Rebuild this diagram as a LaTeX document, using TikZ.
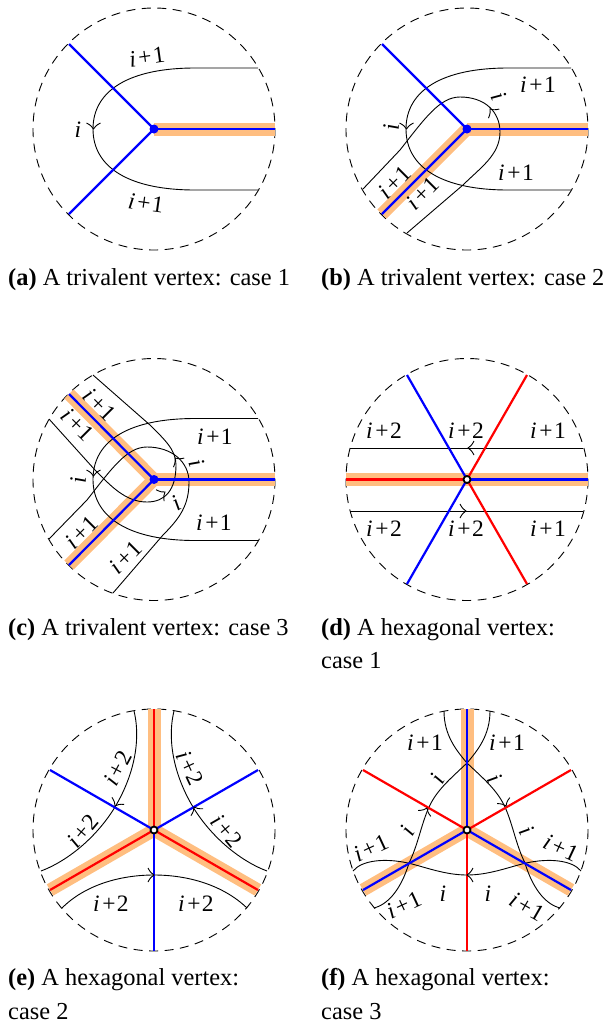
\documentclass[tikz,border=0pt]{standalone}
\usepackage{fontspec}
\setmainfont{Liberation Serif}
\definecolor{hl}{RGB}{255,190,128}
\newcounter{lb}
\newcommand\lab[4]{\stepcounter{lb}\node[lbl,rotate=#3] (lab\arabic{lb}) at (#1,#2) {#4};}
\newcommand\pp[1]{\textit{i}\hspace{2.5pt}+\hspace{1.5pt}#1}
\newcommand\iitxt{\textit{i}}
\newcommand\tipat[3]{\draw[wire,shift={(#1,#2)},rotate=#3] (-6,-7) .. controls (-4,-3) and (-2,-1) .. (0,0) .. controls (-2,1) and (-4,3) .. (-6,7);}
\tikzset{
  lbl/.style={inner sep=0pt,font=\fontsize{23.5}{26}\selectfont},
  wire/.style={black,line width=.9pt},
  bound/.style={black,line width=.9pt,dash pattern=on 9pt off 6.5pt},
  hlbar/.style={hl,line width=13pt},
  bl/.style={blue,line width=2.2pt},
  rd/.style={red,line width=2.2pt},
  capt/.style={anchor=base west,inner sep=0pt,font=\fontsize{24.4}{28}\selectfont},
  dotb/.style={circle,fill=blue,inner sep=0pt,minimum size=9pt},
  dotw/.style={circle,fill=white,draw=black,line width=1.8pt,inner sep=0pt,minimum size=7pt},
}
\begin{document}
\begin{tikzpicture}[x=1pt,y=-1pt]
\useasboundingbox (0,0) rectangle (607,1026);
% ---------- (a)
\coordinate (ac) at (154,129);
\draw[bound] (ac) circle[radius=121];
\draw[hlbar] (ac) -- (275,129);
\draw[wire] (258,68) -- (195,68) .. controls (130,68) and (93,90) .. (93,129) .. controls (93,168) and (130,190) .. (195,190) -- (258,190);
\draw[bl] (ac) -- (69,44);
\draw[bl] (ac) -- (69,214);
\draw[bl] (ac) -- (275,129);
\node[dotb] (av) at (ac) {};
\tipat{93.5}{129}{-90}
\lab{147}{57}{8}{\pp{1}}
\lab{146}{203}{-8}{\pp{1}}
\lab{78}{130}{0}{\iitxt}
\node[capt] (capa) at (8,285) {\textbf{(a)} A trivalent vertex: case 1};
% ---------- (b)
\coordinate (bc) at (467,129);
\draw[bound] (bc) circle[radius=121];
\draw[hlbar] (bc) -- (588,129);
\draw[hlbar] (bc) -- (382,214);
\draw[wire] (571,68) -- (508,68) .. controls (443,68) and (406,90) .. (406,129) .. controls (406,168) and (443,190) .. (508,190) -- (571,190);
\draw[wire] (363,189) -- (400,150) .. controls (425,118) and (440,97) .. (460,97) .. controls (485,97) and (500,112) .. (500,132) .. controls (500,155) and (480,168) .. (463,185) -- (407,233);
\draw[bl] (bc) -- (382,44);
\draw[bl] (bc) -- (382,214);
\draw[bl] (bc) -- (588,129);
\node[dotb] (bv) at (bc) {};
\tipat{406.5}{129}{-90}
\tipat{490}{109}{130}
\lab{538}{85}{0}{\pp{1}}
\lab{516}{173}{0}{\pp{1}}
\lab{391}{127}{90}{\iitxt}
\lab{499}{96}{-65}{\iitxt}
\lab{395}{182}{45}{\pp{1}}
\lab{423}{193}{45}{\pp{1}}
\node[capt] (capb) at (321,285) {\textbf{(b)} A trivalent vertex: case 2};
% ---------- (c)
\coordinate (cc) at (154,479.5);
\draw[bound] (cc) circle[radius=121];
\draw[hlbar] (cc) -- (275,479.5);
\draw[hlbar] (cc) -- (69,565);
\draw[hlbar] (cc) -- (69,394);
\draw[wire] (258,418.5) -- (195,418.5) .. controls (130,418.5) and (93,440) .. (93,479.5) .. controls (93,518) and (130,540.5) .. (195,540.5) -- (258,540.5);
\draw[wire] (49,539) -- (87,500) .. controls (112,468) and (127,447) .. (147,447) .. controls (172,447) and (189,462) .. (189,482) .. controls (189,505) and (180,518) .. (163,535) -- (113,593);
\draw[wire] (93,375) -- (150,425) .. controls (165,440) and (176,450) .. (176,465) .. controls (176,490) and (165,502) .. (147,502) .. controls (125,502) and (110,485) .. (95,470) -- (49,419);
\draw[bl] (cc) -- (69,394);
\draw[bl] (cc) -- (69,565);
\draw[bl] (cc) -- (275,479.5);
\node[dotb] (cv) at (cc) {};
\tipat{93.5}{476}{-90}
\tipat{175}{458}{130}
\tipat{165}{492}{35}
\lab{100}{405}{-45}{\pp{1}}
\lab{78}{425}{-45}{\pp{1}}
\lab{215}{437}{0}{\pp{1}}
\lab{197}{463}{-70}{\iitxt}
\lab{176}{503}{30}{\iitxt}
\lab{78}{480}{90}{\iitxt}
\lab{82}{532}{45}{\pp{1}}
\lab{126}{557}{45}{\pp{1}}
\lab{214}{523}{0}{\pp{1}}
\node[capt] (capc) at (8,635) {\textbf{(c)} A trivalent vertex: case 3};
% ---------- (d)
\coordinate (dc) at (467,479.5);
\draw[bound] (dc) circle[radius=121];
\draw[hlbar] (346,479.5) -- (588,479.5);
\draw[wire] (350,448) -- (583,448);
\draw[wire] (350,511) -- (583,511);
\draw[bl] (dc) -- (407,375);
\draw[bl] (dc) -- (407,584);
\draw[bl] (dc) -- (588,479.5);
\draw[rd] (dc) -- (527,375);
\draw[rd] (dc) -- (527,584);
\draw[rd] (dc) -- (346,479.5);
\node[dotw] (dv) at (dc) {};
\tipat{468}{448}{180}
\tipat{466}{511}{0}
\lab{384}{431}{0}{\pp{2}}
\lab{466}{431}{0}{\pp{2}}
\lab{548}{431}{0}{\pp{1}}
\lab{384}{529}{0}{\pp{2}}
\lab{466}{529}{0}{\pp{2}}
\lab{548}{529}{0}{\pp{1}}
\node[capt] (capd1) at (321,635) {\textbf{(d)} A hexagonal vertex:};
\node[capt] (capd2) at (321,668) {case 1};
% ---------- (e)
\coordinate (ec) at (154,830);
\draw[bound] (ec) circle[radius=121];
\draw[hlbar] (ec) -- (154,709);
\draw[hlbar] (ec) -- (50,890);
\draw[hlbar] (ec) -- (258,890);
\draw[wire] (134,711) .. controls (140,735) and (137,770) .. (115,807) .. controls (98,835) and (70,860) .. (41,871);
\draw[wire] (174,711) .. controls (168,735) and (171,770) .. (193,807) .. controls (210,835) and (238,860) .. (267,871);
\draw[wire] (62,908) .. controls (85,885) and (120,875) .. (154,875) .. controls (188,875) and (223,885) .. (247,908);
\draw[bl] (ec) -- (50,770);
\draw[bl] (ec) -- (258,770);
\draw[bl] (ec) -- (154,951);
\draw[rd] (ec) -- (154,709);
\draw[rd] (ec) -- (50,890);
\draw[rd] (ec) -- (258,890);
\node[dotw] (ev) at (ec) {};
\tipat{115}{806}{-120}
\tipat{194}{807}{120}
\tipat{154}{875}{0}
\lab{118}{768}{62}{\pp{2}}
\lab{83}{831}{50}{\pp{2}}
\lab{190}{768}{-65}{\pp{2}}
\lab{227}{831}{-50}{\pp{2}}
\lab{111}{904}{0}{\pp{2}}
\lab{196}{904}{0}{\pp{2}}
\node[capt] (cape1) at (8,985) {\textbf{(e)} A hexagonal vertex:};
\node[capt] (cape2) at (8,1019) {case 2};
% ---------- (f)
\coordinate (fc) at (467,830);
\draw[bound] (fc) circle[radius=121];
\draw[hlbar] (fc) -- (467,709);
\draw[hlbar] (fc) -- (363,890);
\draw[hlbar] (fc) -- (571,890);
\draw[wire] (444,711) .. controls (444,735) and (456,750) .. (467,763) .. controls (485,780) and (497,790) .. (505,807) .. controls (513,825) and (516,845) .. (525,863) .. controls (530,880) and (541,903) .. (560,908);
\draw[wire] (490,711) .. controls (490,735) and (478,750) .. (467,763) .. controls (449,780) and (437,790) .. (429,807) .. controls (421,825) and (418,845) .. (409,863) .. controls (404,880) and (393,903) .. (374,908);
\draw[wire] (353,871) .. controls (362,860) and (385,858) .. (408,863) .. controls (425,867) and (445,875) .. (467,875) .. controls (489,875) and (509,867) .. (526,863) .. controls (549,858) and (572,860) .. (581,871);
\draw[rd] (fc) -- (363,770);
\draw[rd] (fc) -- (571,770);
\draw[rd] (fc) -- (467,951);
\draw[bl] (fc) -- (467,709);
\draw[bl] (fc) -- (363,890);
\draw[bl] (fc) -- (571,890);
\node[dotw] (fv) at (fc) {};
\tipat{427}{808}{65}
\tipat{506}{806}{-65}
\tipat{467}{875}{180}
\lab{425}{743}{0}{\pp{1}}
\lab{507}{743}{0}{\pp{1}}
\lab{437}{779}{60}{\iitxt}
\lab{495}{778}{-60}{\iitxt}
\lab{407}{831}{60}{\iitxt}
\lab{527}{830}{-60}{\iitxt}
\lab{371}{848}{25}{\pp{1}}
\lab{561}{848}{-25}{\pp{1}}
\lab{404}{905}{25}{\pp{1}}
\lab{527}{907}{-30}{\pp{1}}
\lab{443}{894}{0}{\iitxt}
\lab{488}{894}{0}{\iitxt}
\node[capt] (capf1) at (321,985) {\textbf{(f)} A hexagonal vertex:};
\node[capt] (capf2) at (321,1019) {case 3};
\end{tikzpicture}
\end{document}
